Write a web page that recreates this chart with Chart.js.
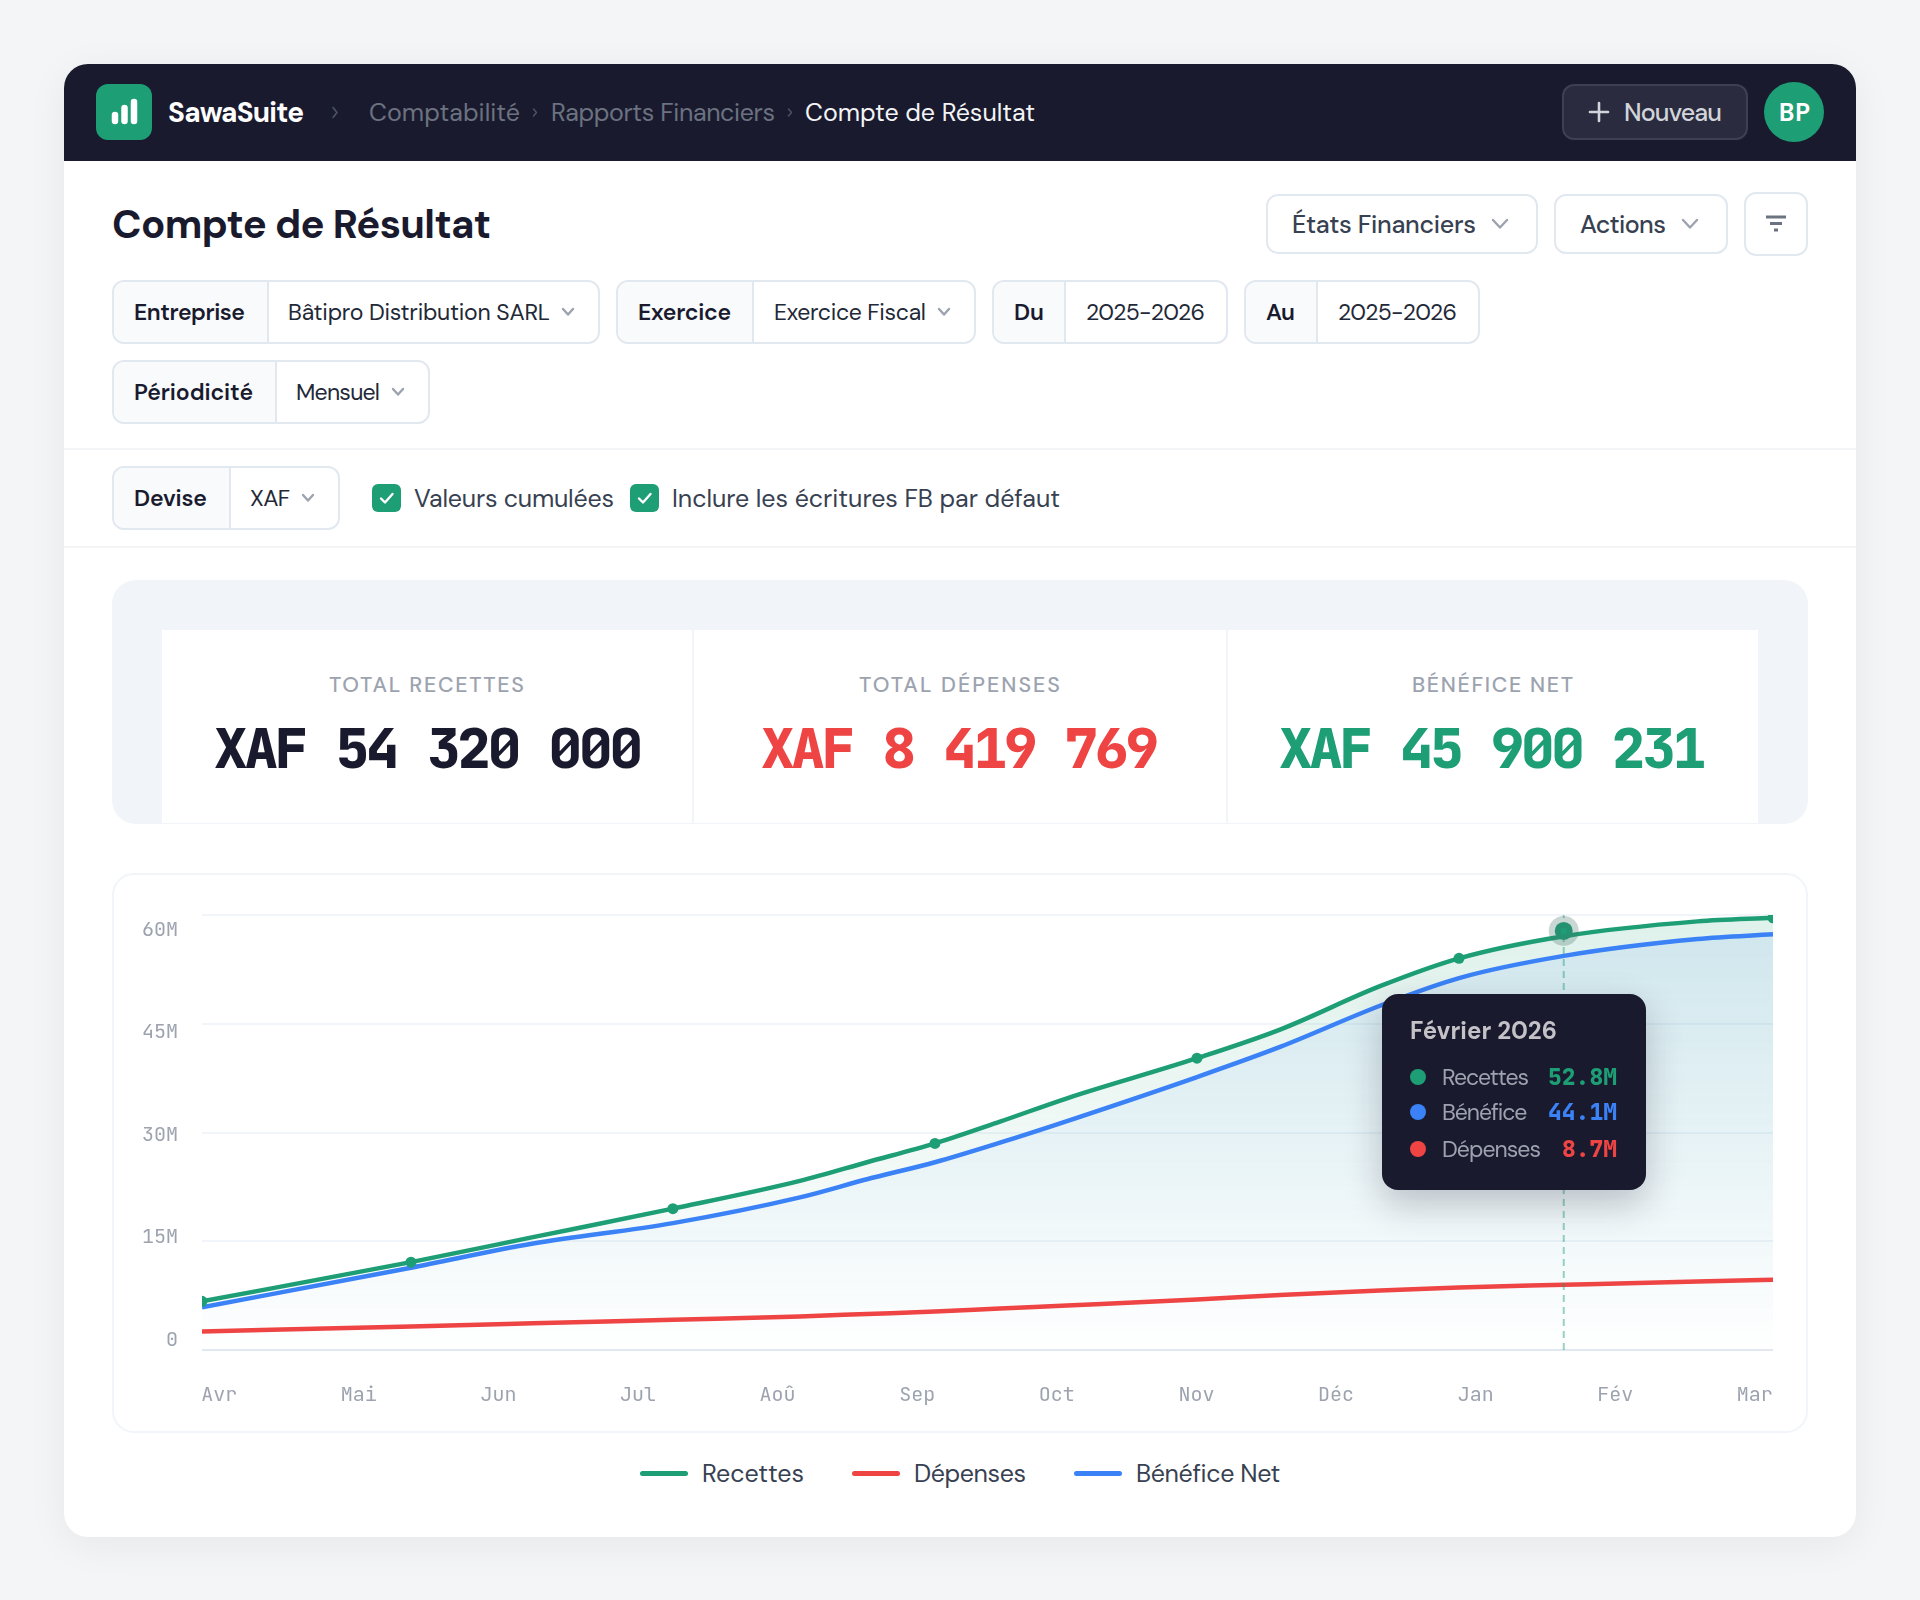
<!DOCTYPE html>
<html lang="fr"><head><meta charset="utf-8"><title>Compte de Résultat</title>
<script src="https://cdn.jsdelivr.net/npm/chart.js@4"></script>
<style>
:root{--s:"DM Sans",Inter,sans-serif;--m:"JetBrains Mono",monospace;--g:#1d9e75;--r:#ef4444;--b:#3b82f6;--d:#1a1a2e}
*{box-sizing:border-box}
html,body{margin:0;padding:0;background:#f4f5f7;width:1920px;height:1600px;overflow:hidden;font-family:var(--s)}
.a{position:absolute}
.t{position:absolute;white-space:pre;transform:translateY(-50%);line-height:1.2}
.box{position:absolute;border:2px solid #e2e8f0;border-radius:12px;background:#fff;overflow:hidden}
.lab{position:absolute;left:0;top:0;bottom:0;background:#f8fafc;border-right:2px solid #e2e8f0}
.l{font:600 23px var(--s);color:var(--d)}
.v{font:400 23px var(--s);color:#1f2937}
.ch{position:absolute;fill:none;stroke:#9ca3af;stroke-width:2.4;stroke-linecap:round;stroke-linejoin:round}
.nav{font:400 25px var(--s);color:#6b7280}
.kl{font:500 21.5px var(--s);color:#9ca3af}
.kv{font:800 56px var(--m);font-variant-numeric:slashed-zero}
.lg{font:400 25px var(--s);color:#374151}
.sw{position:absolute;height:5px;width:48px;border-radius:3px}
.tip{position:absolute;left:1382px;top:994px;width:264px;height:196px;background:var(--d);border-radius:16px;box-shadow:0 14px 36px rgba(26,26,46,.24)}
.dot{position:absolute;width:16px;height:16px;border-radius:50%}
</style></head><body>
<div class="a" id="card" style="left:64px;top:64px;width:1792px;height:1473px;background:#fff;border-radius:24px;box-shadow:0 8px 40px rgba(0,0,0,.06)"></div>
<div class="a" style="left:64px;top:64px;width:1792px;height:97px;background:var(--d);border-radius:24px 24px 0 0"></div>

<div class="a" style="left:96px;top:84px;width:56px;height:56px;border-radius:12px;background:var(--g)"></div>
<svg class="a" style="left:96px;top:84px" width="56" height="56"><g stroke="#fff" stroke-width="6.5" stroke-linecap="round"><line x1="19" y1="37" x2="19" y2="31"/><line x1="28.5" y1="37" x2="28.5" y2="24"/><line x1="38" y1="37" x2="38" y2="18"/></g></svg>
<span class="t" style="left:168px;top:112px;font:700 28px var(--s);color:#fff" data-w="136">SawaSuite</span>
<svg class="ch" style="left:331px;top:106px;stroke:#4b5563;stroke-width:1.6" width="8" height="13"><polyline points="2,1.5 6,6.5 2,11.5"/></svg>
<span class="t nav" style="left:369px;top:112px" data-w="151">Comptabilité</span>
<svg class="ch" style="left:532px;top:108px;stroke:#4b5563;stroke-width:1.4" width="6" height="9"><polyline points="1.5,1 4.5,4.5 1.5,8"/></svg>
<span class="t nav" style="left:551px;top:112px" data-w="224">Rapports Financiers</span>
<svg class="ch" style="left:787px;top:108px;stroke:#4b5563;stroke-width:1.4" width="6" height="9"><polyline points="1.5,1 4.5,4.5 1.5,8"/></svg>
<span class="t nav" style="left:805px;top:112px;color:#f3f4f6" data-w="230">Compte de Résultat</span>
<div class="a" style="left:1562px;top:84px;width:186px;height:56px;border-radius:12px;background:#2a2b3e;border:2px solid #3c4050"></div>
<svg class="a" style="left:1588px;top:101px" width="22" height="22"><g stroke="#d1d5db" stroke-width="2.6" stroke-linecap="round"><line x1="11" y1="2" x2="11" y2="20"/><line x1="2" y1="11" x2="20" y2="11"/></g></svg>
<span class="t" style="left:1624px;top:112px;font:500 25px var(--s);color:#d1d5db" data-w="98">Nouveau</span>
<div class="a" style="left:1764px;top:82px;width:60px;height:60px;border-radius:50%;background:var(--g)"></div>
<span class="t" style="left:1779px;top:112px;font:700 24px var(--s);color:#fff" data-w="31">BP</span>

<span class="t" style="left:112px;top:224px;font:700 40px var(--s);color:var(--d)" data-w="379">Compte de Résultat</span>
<div class="box" style="left:1266px;top:194px;width:272px;height:60px"></div>
<span class="t" style="left:1292px;top:224px;font:500 25px var(--s);color:#374151" data-w="184">États Financiers</span>
<svg class="ch" style="left:1491px;top:218px" width="18" height="12"><polyline points="2,2 9,9.5 16,2"/></svg>
<div class="box" style="left:1554px;top:194px;width:174px;height:60px"></div>
<span class="t" style="left:1580px;top:224px;font:500 25px var(--s);color:#374151" data-w="86">Actions</span>
<svg class="ch" style="left:1681px;top:218px" width="18" height="12"><polyline points="2,2 9,9.5 16,2"/></svg>
<div class="box" style="left:1744px;top:192px;width:64px;height:64px"></div>
<svg class="a" style="left:1764px;top:214px" width="24" height="20"><g stroke="#6b7280" stroke-width="3"><line x1="2" y1="3" x2="22" y2="3"/><line x1="6" y1="9.5" x2="18" y2="9.5"/><line x1="10" y1="16" x2="14" y2="16"/></g></svg>

<div class="box" style="left:112px;top:280px;width:488px;height:64px"><div class="lab" style="width:155px"></div></div>
<span class="t l" style="left:134px;top:312px" data-w="111">Entreprise</span>
<span class="t v" style="left:288px;top:312px" data-w="262">Bâtipro Distribution SARL</span>
<svg class="ch" style="left:561px;top:307px" width="14" height="10"><polyline points="2,2 7,7.5 12,2"/></svg>
<div class="box" style="left:616px;top:280px;width:360px;height:64px"><div class="lab" style="width:136px"></div></div>
<span class="t l" style="left:638px;top:312px" data-w="93">Exercice</span>
<span class="t v" style="left:774px;top:312px" data-w="152">Exercice Fiscal</span>
<svg class="ch" style="left:937px;top:307px" width="14" height="10"><polyline points="2,2 7,7.5 12,2"/></svg>
<div class="box" style="left:992px;top:280px;width:236px;height:64px"><div class="lab" style="width:72px"></div></div>
<span class="t l" style="left:1014px;top:312px" data-w="30">Du</span>
<span class="t v" style="left:1086px;top:312px" data-w="119">2025-2026</span>
<div class="box" style="left:1244px;top:280px;width:236px;height:64px"><div class="lab" style="width:72px"></div></div>
<span class="t l" style="left:1266px;top:312px" data-w="29">Au</span>
<span class="t v" style="left:1338px;top:312px" data-w="119">2025-2026</span>
<div class="box" style="left:112px;top:360px;width:318px;height:64px"><div class="lab" style="width:163px"></div></div>
<span class="t l" style="left:134px;top:392px" data-w="119">Périodicité</span>
<span class="t v" style="left:296px;top:392px" data-w="84">Mensuel</span>
<svg class="ch" style="left:391px;top:387px" width="14" height="10"><polyline points="2,2 7,7.5 12,2"/></svg>
<div class="a" style="left:64px;top:448px;width:1792px;height:2px;background:#f3f4f6"></div>
<div class="box" style="left:112px;top:466px;width:228px;height:64px"><div class="lab" style="width:117px"></div></div>
<span class="t l" style="left:134px;top:498px" data-w="73">Devise</span>
<span class="t v" style="left:250px;top:498px" data-w="40">XAF</span>
<svg class="ch" style="left:301px;top:493px" width="14" height="10"><polyline points="2,2 7,7.5 12,2"/></svg>
<svg class="a" style="left:372px;top:484px" width="29" height="28"><rect width="29" height="28" rx="6" fill="#1d9e75"/><polyline points="9,14.5 13,18.5 20.5,10" fill="none" stroke="#fff" stroke-width="2.4" stroke-linecap="round" stroke-linejoin="round"/></svg>
<span class="t" style="left:414px;top:498px;font:400 25px var(--s);color:#374151" data-w="200">Valeurs cumulées</span>
<svg class="a" style="left:630px;top:484px" width="29" height="28"><rect width="29" height="28" rx="6" fill="#1d9e75"/><polyline points="9,14.5 13,18.5 20.5,10" fill="none" stroke="#fff" stroke-width="2.4" stroke-linecap="round" stroke-linejoin="round"/></svg>
<span class="t" style="left:672px;top:498px;font:400 25px var(--s);color:#374151" data-w="388">Inclure les écritures FB par défaut</span>
<div class="a" style="left:64px;top:546px;width:1792px;height:2px;background:#f3f4f6"></div>

<div class="a" style="left:112px;top:580px;width:1696px;height:244px;border-radius:24px;background:#f1f4f8"></div>
<div class="a" style="left:162px;top:630px;width:1596px;height:193px;background:#fff"></div>
<div class="a" style="left:692px;top:630px;width:2px;height:193px;background:#f1f4f8"></div>
<div class="a" style="left:1226px;top:630px;width:2px;height:193px;background:#f1f4f8"></div>
<span class="t kl" style="left:329px;top:685px" data-w="195">TOTAL RECETTES</span>
<span class="t kl" style="left:859px;top:685px" data-w="201">TOTAL DÉPENSES</span>
<span class="t kl" style="left:1412px;top:685px" data-w="161">BÉNÉFICE NET</span>
<span class="t kv" style="left:214px;top:748px;color:var(--d)" data-w="429">XAF 54 320 000</span>
<span class="t kv" style="left:761px;top:748px;color:var(--r)" data-w="398">XAF 8 419 769</span>
<span class="t kv" style="left:1279px;top:748px;color:var(--g)" data-w="427">XAF 45 900 231</span>

<div class="a" style="left:112px;top:873px;width:1696px;height:560px;border:2px solid #f1f5f9;border-radius:22px"></div>
<div class="a" style="left:112px;top:873px;width:1696px;height:560px"><canvas id="c" width="1696" height="560" style="display:block"></canvas></div>

<div class="tip" id="tip"></div>

<div class="sw" style="left:640px;top:1471px;background:var(--g)"></div>
<span class="t lg" style="left:702px;top:1473px" data-w="102">Recettes</span>
<div class="sw" style="left:852px;top:1471px;background:var(--r)"></div>
<span class="t lg" style="left:914px;top:1473px" data-w="112">Dépenses</span>
<div class="sw" style="left:1074px;top:1471px;background:var(--b)"></div>
<span class="t lg" style="left:1136px;top:1473px" data-w="144">Bénéfice Net</span>

<script>
// ---- chart data, in axis units (months on x, millions XAF on y) ----
const months = ['Avr','Mai','Jun','Jul','Aoû','Sep','Oct','Nov','Déc','Jan','Fév','Mar'];
const yTicks = [0,15,30,45,60];
const yTickLabels = ['0','15M','30M','45M','60M'];
const curveX   = [-0.123,1.374,2.248,3.250,4.160,4.640,5.127,5.593,6.073,7.004,7.599,8.315,8.881,9.633,10.59,11.13];
const recettes = [6.72,12.12,15.57,19.50,23.33,25.90,28.50,31.50,34.72,40.25,44.20,50.18,54.02,57.07,59.12,59.62];
const benefice = [5.90,11.35,14.68,17.50,21.05,23.55,25.90,28.60,31.58,37.65,41.80,47.48,51.30,54.36,56.68,57.33];
const depenses = [2.55,3.25,3.68,4.18,4.63,4.97,5.31,5.73,6.14,6.97,7.59,8.22,8.63,9.00,9.46,9.70];
const markedPoints = [0,1,3,6,9,12,15]; // indices into curveX carrying a visible Recettes marker
const activeX = 9.631, activeY = 57.8;
const tooltipTitle = 'Février 2026';
const tooltipNames = ['Recettes','Bénéfice','Dépenses'];
const tooltipValues = ['52.8M','44.1M','8.7M'];

const GREEN='#1d9e75', RED='#ef4444', BLUE='#3b82f6';
const xy = a => curveX.map((x,i)=>({x,y:a[i]}));
const grad = (rgb,alpha) => c => {
  const ca=c.chart.chartArea; if(!ca) return 'transparent';
  const g=c.chart.ctx.createLinearGradient(0,ca.top,0,ca.bottom);
  g.addColorStop(0,`rgba(${rgb},${alpha})`); g.addColorStop(1,`rgba(${rgb},0)`); return g;
};
const fixH = h => s => { s.height=h; s.paddingLeft=0; s.paddingRight=0; };
const fixW = w => s => { s.width=w; s.paddingTop=0; s.paddingBottom=0; };
const base = {pointRadius:0,pointHoverRadius:0,borderWidth:4.5,cubicInterpolationMode:'monotone',borderCapStyle:'butt'};
const monoFont = '"JetBrains Mono",monospace';

new Chart(document.getElementById('c'),{
  type:'line',
  data:{datasets:[
    {...base,label:'Recettes',data:xy(recettes),borderColor:GREEN,fill:'origin',backgroundColor:grad('29,158,117',.14),order:6},
    {...base,label:'Bénéfice Net',data:xy(benefice),borderColor:BLUE,fill:'origin',backgroundColor:grad('59,130,246',.10),order:5},
    {...base,label:'Dépenses',data:xy(depenses),borderColor:RED,fill:false,order:4},
    {label:'Repère',data:[{x:activeX,y:0},{x:activeX,y:60}],borderColor:'rgba(29,158,117,.45)',borderWidth:2,borderDash:[7,5],pointRadius:0,fill:false,order:3},
    {label:'Points',data:markedPoints.map(i=>({x:curveX[i],y:recettes[i]})),showLine:false,pointRadius:5.5,pointBackgroundColor:GREEN,pointBorderWidth:0,order:2},
    {label:'Actif',data:[{x:activeX,y:activeY}],showLine:false,pointRadius:9,pointBackgroundColor:GREEN,pointBorderColor:'rgba(60,110,100,.28)',pointBorderWidth:12,order:1}
  ]},
  options:{
    responsive:false,animation:false,devicePixelRatio:1,
    events:[],
    layout:{padding:{left:0,right:35,top:42,bottom:0}},
    plugins:{legend:{display:false},tooltip:{enabled:false}},
    scales:{
      x:{type:'linear',min:-0.123,max:11.13,
        afterBuildTicks:s=>{s.ticks=months.map((_,i)=>({value:i}));},
        afterFit:fixH(83),
        grid:{display:false},border:{display:false},
        ticks:{autoSkip:false,maxRotation:0,padding:26,color:'#9ca3af',font:{family:monoFont,size:20},callback:v=>months[v]}},
      y:{position:'left',min:0,max:60,
        afterBuildTicks:s=>{s.ticks=yTicks.map(v=>({value:v}));},
        afterFit:fixW(0),
        border:{display:false},
        grid:{lineWidth:2,drawTicks:false,color:c=>c.tick.value===0?'#e2e8f0':'#f1f5f9'},
        ticks:{display:false}},
      yl:{position:'left',min:-1.4,max:62.2,
        afterBuildTicks:s=>{s.ticks=yTicks.map(v=>({value:v}));},
        afterFit:fixW(90),
        border:{display:false},grid:{display:false,drawTicks:false},
        ticks:{padding:24,autoSkip:false,color:'#9ca3af',font:{family:monoFont,size:20},callback:v=>yTickLabels[yTicks.indexOf(v)]}}
    }
  }
});

// ---- tooltip card ----
const tip=document.getElementById('tip');
const tipCols=[GREEN,BLUE,RED], tipW=[87,85,99], tipVW=[69,69,55];
let html=`<span class="t" style="left:28px;top:36px;font:700 24px var(--s);color:#c4c2c7" data-w="147">${tooltipTitle}</span>`;
tooltipNames.forEach((n,i)=>{
  const top=[83,118,155][i];
  html+=`<div class="dot" style="left:28px;top:${top-8}px;background:${tipCols[i]}"></div>`;
  html+=`<span class="t" style="left:60px;top:${top}px;font:400 23px var(--s);color:#9ca3af" data-w="${tipW[i]}">${n}</span>`;
  html+=`<span class="t" style="left:${235-tipVW[i]}px;top:${top}px;font:800 23px var(--m);font-variant-numeric:slashed-zero;color:${tipCols[i]}" data-w="${tipVW[i]}">${tooltipValues[i]}</span>`;
});
tip.innerHTML=html;

// ---- fit text runs to their measured widths ----
document.querySelectorAll('[data-w]').forEach(e=>{
  const w=e.getBoundingClientRect().width, n=e.textContent.length;
  e.style.letterSpacing=((+e.dataset.w-w)/(n-1)).toFixed(3)+'px';
});
</script>
</body></html>
